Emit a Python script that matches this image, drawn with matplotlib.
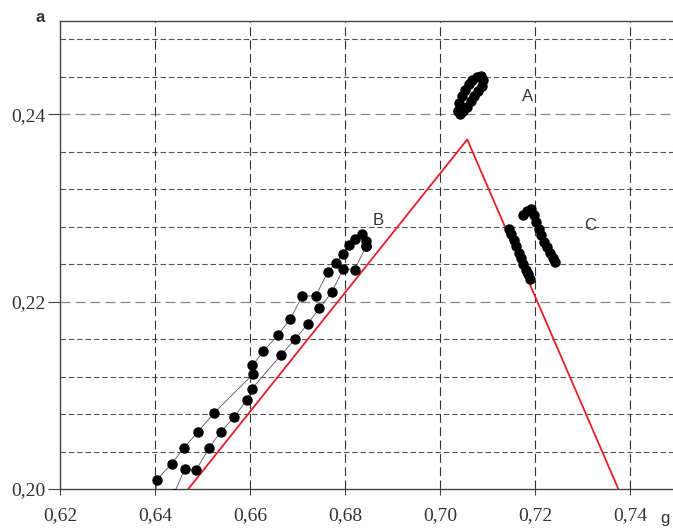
import matplotlib
matplotlib.use('Agg')
import matplotlib.pyplot as plt
from matplotlib.ticker import FixedLocator, FuncFormatter

# ---- data ----
# B loop: rising (upper-left) branch
b_up_x = [0.6400, 0.6404, 0.6435, 0.6461, 0.6490, 0.6524, 0.6607, 0.6605, 0.6628, 0.6658,
          0.6684, 0.6710, 0.6738, 0.6764, 0.6780, 0.6796, 0.6809, 0.6821, 0.6835, 0.6844, 0.6844]
b_up_y = [0.1990, 0.2010, 0.2027, 0.2044, 0.2061, 0.2081, 0.2123, 0.2132, 0.2147, 0.2164,
          0.2181, 0.2206, 0.2206, 0.2232, 0.2241, 0.2251, 0.2260, 0.2267, 0.2272, 0.2265, 0.2259]
# B loop: falling (lower-right) branch
b_dn_x = [0.6844, 0.6820, 0.6796, 0.6772, 0.6746, 0.6721, 0.6695, 0.6665, 0.6604, 0.6593,
          0.6567, 0.6538, 0.6514, 0.6486, 0.6462, 0.6440]
b_dn_y = [0.2259, 0.2234, 0.2235, 0.2210, 0.2193, 0.2176, 0.2160, 0.2143, 0.2107, 0.2095,
          0.2077, 0.2061, 0.2044, 0.2020, 0.2021, 0.1995]
# A cluster (closed loop)
a_x = [0.7038, 0.7040, 0.7045, 0.7052, 0.7060, 0.7068, 0.7077, 0.7086, 0.7090,
       0.7088, 0.7080, 0.7072, 0.7064, 0.7056, 0.7048, 0.7041, 0.7038]
a_y = [0.2403, 0.2412, 0.2419, 0.2426, 0.2432, 0.2436, 0.2440, 0.2441, 0.2436,
       0.2430, 0.2425, 0.2419, 0.2414, 0.2408, 0.2403, 0.2400, 0.2403]
# C cluster: left strand and right strand
c1_x = [0.7145, 0.7150, 0.7155, 0.7160, 0.7165, 0.7170, 0.7175, 0.7180, 0.7185, 0.7190]
c1_y = [0.2278, 0.2272, 0.2266, 0.2259, 0.2252, 0.2246, 0.2240, 0.2234, 0.2229, 0.2224]
c2_x = [0.7175, 0.7183, 0.7192, 0.7197, 0.7202, 0.7208, 0.7213, 0.7219, 0.7225, 0.7231, 0.7237, 0.7242]
c2_y = [0.2292, 0.2297, 0.2299, 0.2292, 0.2285, 0.2278, 0.2271, 0.2264, 0.2258, 0.2252, 0.2247, 0.2242]
# red boundary (triangle)
red_x = [0.6470, 0.7057, 0.7375]
red_y = [0.2000, 0.2373, 0.2000]

labels = ['A', 'B', 'C']
label_x = [0.7183, 0.6869, 0.7316]
label_y = [0.2419, 0.2287, 0.2281]

x_major = [0.62, 0.64, 0.66, 0.68, 0.70, 0.72, 0.74]
y_major = [0.20, 0.22, 0.24]
y_minor = [0.204, 0.208, 0.212, 0.216, 0.224, 0.228, 0.232, 0.236, 0.244, 0.248]

# ---- figure ----
fig = plt.figure(figsize=(6.73, 5.32), dpi=100)
ax = fig.add_axes([60/673, 1 - 489/532, 613/673, 468.5/532])
ax.set_xlim(0.62, 0.749)
ax.set_ylim(0.20, 0.25)

# grid
for yv in y_minor:
    ax.axhline(yv, color='#555555', lw=0.8, dashes=(5, 2.5), zorder=1)
for yv in y_major[1:]:
    ax.axhline(yv, color='#888888', lw=0.9, dashes=(8, 4), zorder=1)
for xv in x_major[1:]:
    ax.axvline(xv, color='#333333', lw=0.8, dashes=(8, 4), zorder=1)

# series
mk = dict(marker='o', markersize=6.5, markerfacecolor='black', markeredgecolor='black',
          color='#555555', lw=0.6, zorder=3)
ax.plot(b_up_x, b_up_y, **mk)
ax.plot(b_dn_x, b_dn_y, **mk)
ax.plot(a_x, a_y, **mk)
ax.plot(c1_x, c1_y, **mk)
ax.plot(c2_x, c2_y, **mk)
ax.plot(red_x, red_y, color='#e0202a', lw=1.3, zorder=2)

for t, xv, yv in zip(labels, label_x, label_y):
    ax.text(xv, yv, t, fontsize=12, family='Liberation Sans', color='#333333',
            ha='center', va='center')

# axes styling
ax.xaxis.set_major_locator(FixedLocator(x_major))
ax.yaxis.set_major_locator(FixedLocator(y_major))
fmt = FuncFormatter(lambda v, p: f'{v:.2f}'.replace('.', ','))
ax.xaxis.set_major_formatter(fmt)
ax.yaxis.set_major_formatter(fmt)
ax.tick_params(axis='x', direction='out', length=4, width=0.8, color='#444444',
               labelsize=14, labelcolor='#333333', pad=9)
ax.tick_params(axis='y', direction='out', length=9, width=0.8, color='#444444',
               labelsize=14, labelcolor='#333333', pad=1.5)
for lab in ax.get_xticklabels() + ax.get_yticklabels():
    lab.set_family('Liberation Serif')
for s in ['left', 'bottom', 'top']:
    ax.spines[s].set_color('#444444')
    ax.spines[s].set_linewidth(1.0)
ax.spines['right'].set_visible(False)

fig.text(40/673, 1 - 18/532, 'a', fontsize=12, fontweight='bold',
         family='Liberation Sans', color='#333333', ha='center', va='center')
fig.text(665/673, 1 - 518/532, 'g', fontsize=12,
         family='Liberation Sans', color='#333333', ha='center', va='center')

fig.savefig('out.png', dpi=100)
